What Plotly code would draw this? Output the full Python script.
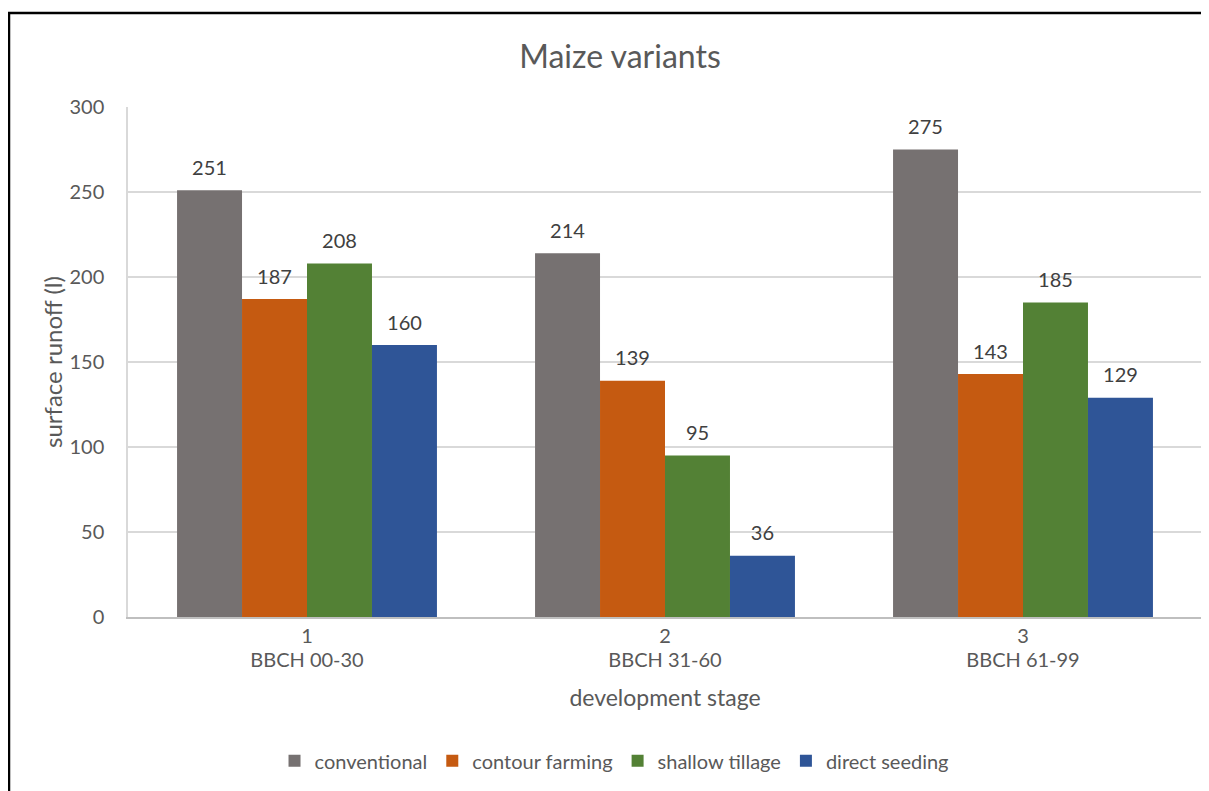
import plotly.graph_objects as go

stage_numbers = ["1", "2", "3"]
stage_names = ["BBCH 00-30", "BBCH 31-60", "BBCH 61-99"]
series_names = ["conventional", "contour farming", "shallow tillage", "direct seeding"]
conventional = [251, 214, 275]
contour_farming = [187, 139, 143]
shallow_tillage = [208, 95, 185]
direct_seeding = [160, 36, 129]
colors = ["#767171", "#C55A11", "#538135", "#2F5597"]

FONT = "Lato"
TXT = "#595959"
LBL = "#404040"

categories = [f"{n}<br>{s}" for n, s in zip(stage_numbers, stage_names)]
ticktext = [f"<span style='font-size:20px'>{n}</span><br><span style='font-size:20px'>{s}</span>"
            for n, s in zip(stage_numbers, stage_names)]

all_values = [conventional, contour_farming, shallow_tillage, direct_seeding]

fig = go.Figure()
for i, (name, vals, col) in enumerate(zip(series_names, all_values, colors)):
    fig.add_trace(go.Bar(
        x=categories, y=vals, name=name, offsetgroup=str(i),
        marker=dict(color=col, line=dict(width=0)),
        hoverinfo="skip",
    ))
for i, vals in enumerate(all_values):
    fig.add_trace(go.Scatter(
        x=categories, y=vals, offsetgroup=str(i), mode="markers+text",
        marker=dict(size=15, opacity=0, color="white"),
        text=[str(v) for v in vals], textposition="top center",
        textfont=dict(family=FONT, size=20, color=LBL),
        showlegend=False, hoverinfo="skip", cliponaxis=False,
    ))

fig.update_layout(
    width=1201, height=783,
    margin=dict(l=120, r=7, t=99, b=174),
    paper_bgcolor="white", plot_bgcolor="white",
    barmode="group", bargap=0.274, bargroupgap=0,
    scattermode="group", scattergap=0.274,
    font=dict(family=FONT, color=TXT, size=20),
    title=dict(text="Maize variants", x=0.5096, xanchor="center", y=0.9374, yanchor="middle",
               font=dict(family=FONT, size=32, color=TXT)),
    legend=dict(orientation="h", x=0.453, xanchor="center", y=-0.282, yanchor="middle",
                font=dict(family=FONT, size=20, color=TXT), traceorder="normal",
                itemwidth=30),
    xaxis=dict(showgrid=False, showline=True, linecolor="#BFBFBF", linewidth=1.5,
               ticks="", ticklabelstandoff=1,
               tickmode="array", tickvals=categories, ticktext=ticktext,
               tickfont=dict(family=FONT, size=19, color=TXT),
               title=dict(text="development stage", standoff=20,
                          font=dict(family=FONT, size=23, color=TXT))),
    yaxis=dict(range=[0, 300], dtick=50, showgrid=True, gridcolor="#D9D9D9", gridwidth=1.5,
               showline=True, linecolor="#D9D9D9", linewidth=1.5, zeroline=False,
               ticks="", ticklabelstandoff=18,
               tickfont=dict(family=FONT, size=20, color=TXT),
               title=dict(text="surface runoff (l)", standoff=0,
                          font=dict(family=FONT, size=24, color=TXT))),
    showlegend=True,
)

fig.add_shape(type="rect", xref="paper", yref="paper",
              x0=(1 - 120) / 1074, x1=(1215 - 120) / 1074,
              y0=-(795 - 609) / 510, y1=1 + (99 - 5) / 510,
              line=dict(color="black", width=2.5), fillcolor="rgba(0,0,0,0)", layer="below")

fig.write_html("out.html")
